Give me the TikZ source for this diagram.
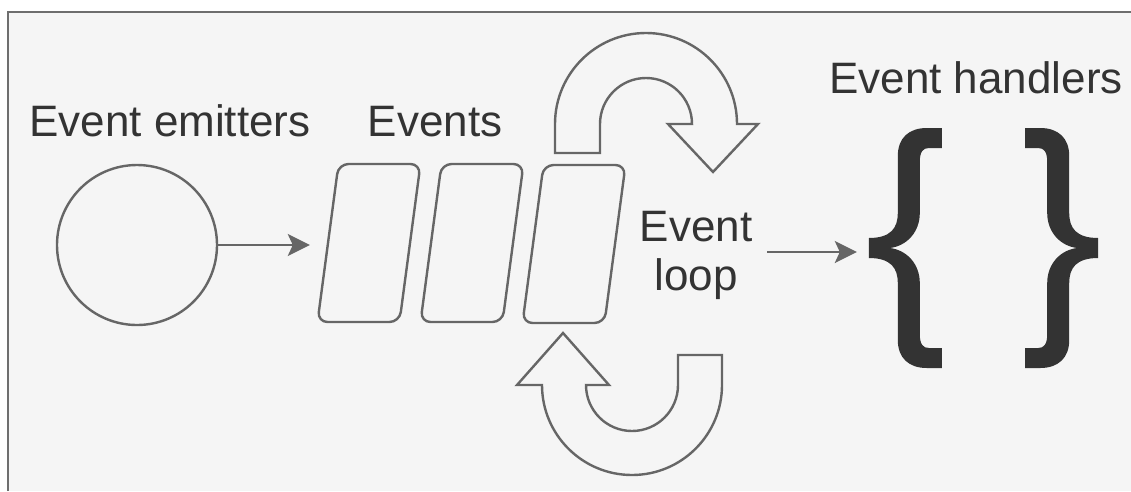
\documentclass[tikz,border=0pt]{standalone}
\usepackage{fontspec}
\setmainfont{Liberation Sans}
\usetikzlibrary{arrows.meta,calc}
\definecolor{bg}{HTML}{F5F5F5}
\definecolor{ink}{HTML}{333333}
\definecolor{edge}{HTML}{666666}
\definecolor{framec}{HTML}{6E6E6E}

\begin{document}
\begin{tikzpicture}[x=1pt,y=-1pt,
  caption/.style={text=ink, font=\fontsize{44}{49}\selectfont, inner sep=0pt},
  evbox/.style={draw=edge, line width=2.4pt, rounded corners=10pt,
    minimum width=82pt, minimum height=158pt, inner sep=0pt,
    xslant=0.133, transform shape},
  emitterc/.style={circle, draw=edge, line width=2.4pt, minimum size=160pt, inner sep=0pt},
  bracebox/.style={minimum width=73pt, minimum height=240pt, inner sep=0pt},
  arr/.style={draw=edge, line width=2.4pt, -{Stealth[length=22pt,width=22pt,inset=5pt]}},
  turn/.style={draw=edge, line width=2.4pt, line join=miter},
  % a curly brace opening to the right, origin at its middle tip
  curly/.pic={
    \fill[ink] (73,-120) -- (73,-100) -- (60,-100)
      .. controls (54,-100) and (51,-96) .. (51,-86) -- (51,-35)
      .. controls (51,-16) and (38,-2) .. (21,0)
      .. controls (38,2) and (51,16) .. (51,35) -- (51,86)
      .. controls (51,96) and (54,100) .. (60,100) -- (73,100) -- (73,120) -- (58,120)
      .. controls (40,120) and (29,110) .. (29,92) -- (29,35)
      .. controls (29,20) and (22,10) .. (0,10) -- (0,-10)
      .. controls (22,-10) and (29,-20) .. (29,-35) -- (29,-92)
      .. controls (29,-110) and (40,-120) .. (58,-120) -- cycle;
  }
]
% canvas and frame
\useasboundingbox (0,0) rectangle (1131,491);
\fill[white] (0,0) rectangle (1131,491);
\fill[bg] (8,12) rectangle (1131,491);
\draw[framec, line width=2pt] (8,491) -- (8,12) -- (1131,12);

% headings
\node[caption, anchor=base] (temit) at (170,136) {Event emitters};
\node[caption, anchor=base] (tevents) at (435,136) {Events};
\node[caption, anchor=base] (thandlers) at (976,93) {Event handlers};

% emitter
\node[emitterc] (emitter) at (137,245) {};

% event queue
\node[evbox] (ev1) at (369,243) {};
\node[evbox] (ev2) at (472,243) {};
\node[evbox] (ev3) at (574,244) {};

% loop label
\node[caption, align=center] (loop) at (696,255) {Event\\loop};

% handler braces
\node[bracebox] (lbrace) at (905.5,248) {};
\node[bracebox] (rbrace) at (1061.5,248) {};
\pic at (lbrace.west) {curly};
\pic[xscale=-1] at (rbrace.east) {curly};

% connectors
\draw[arr, shorten >=17pt] (emitter.east) -- (emitter.east -| ev1.west);
\draw[arr, shorten <=15pt, shorten >=12pt] ([yshift=3pt]loop.east) -- ([yshift=3pt]loop.east -| lbrace.west);

% upper turning arrow
\draw[turn] (555,153) -- (555,124) arc[start angle=180, end angle=360, radius=91]
  -- (758,124) -- (713,172) -- (668,124) -- (692,124)
  arc[start angle=0, end angle=-180, radius=46] -- (600,153) -- cycle;

% lower turning arrow
\draw[turn] (722,355) -- (722,385) arc[start angle=0, end angle=180, radius=90]
  -- (517,385) -- (563,333) -- (609,385) -- (586,385)
  arc[start angle=180, end angle=0, radius=46] -- (678,355) -- cycle;
\end{tikzpicture}
\end{document}
